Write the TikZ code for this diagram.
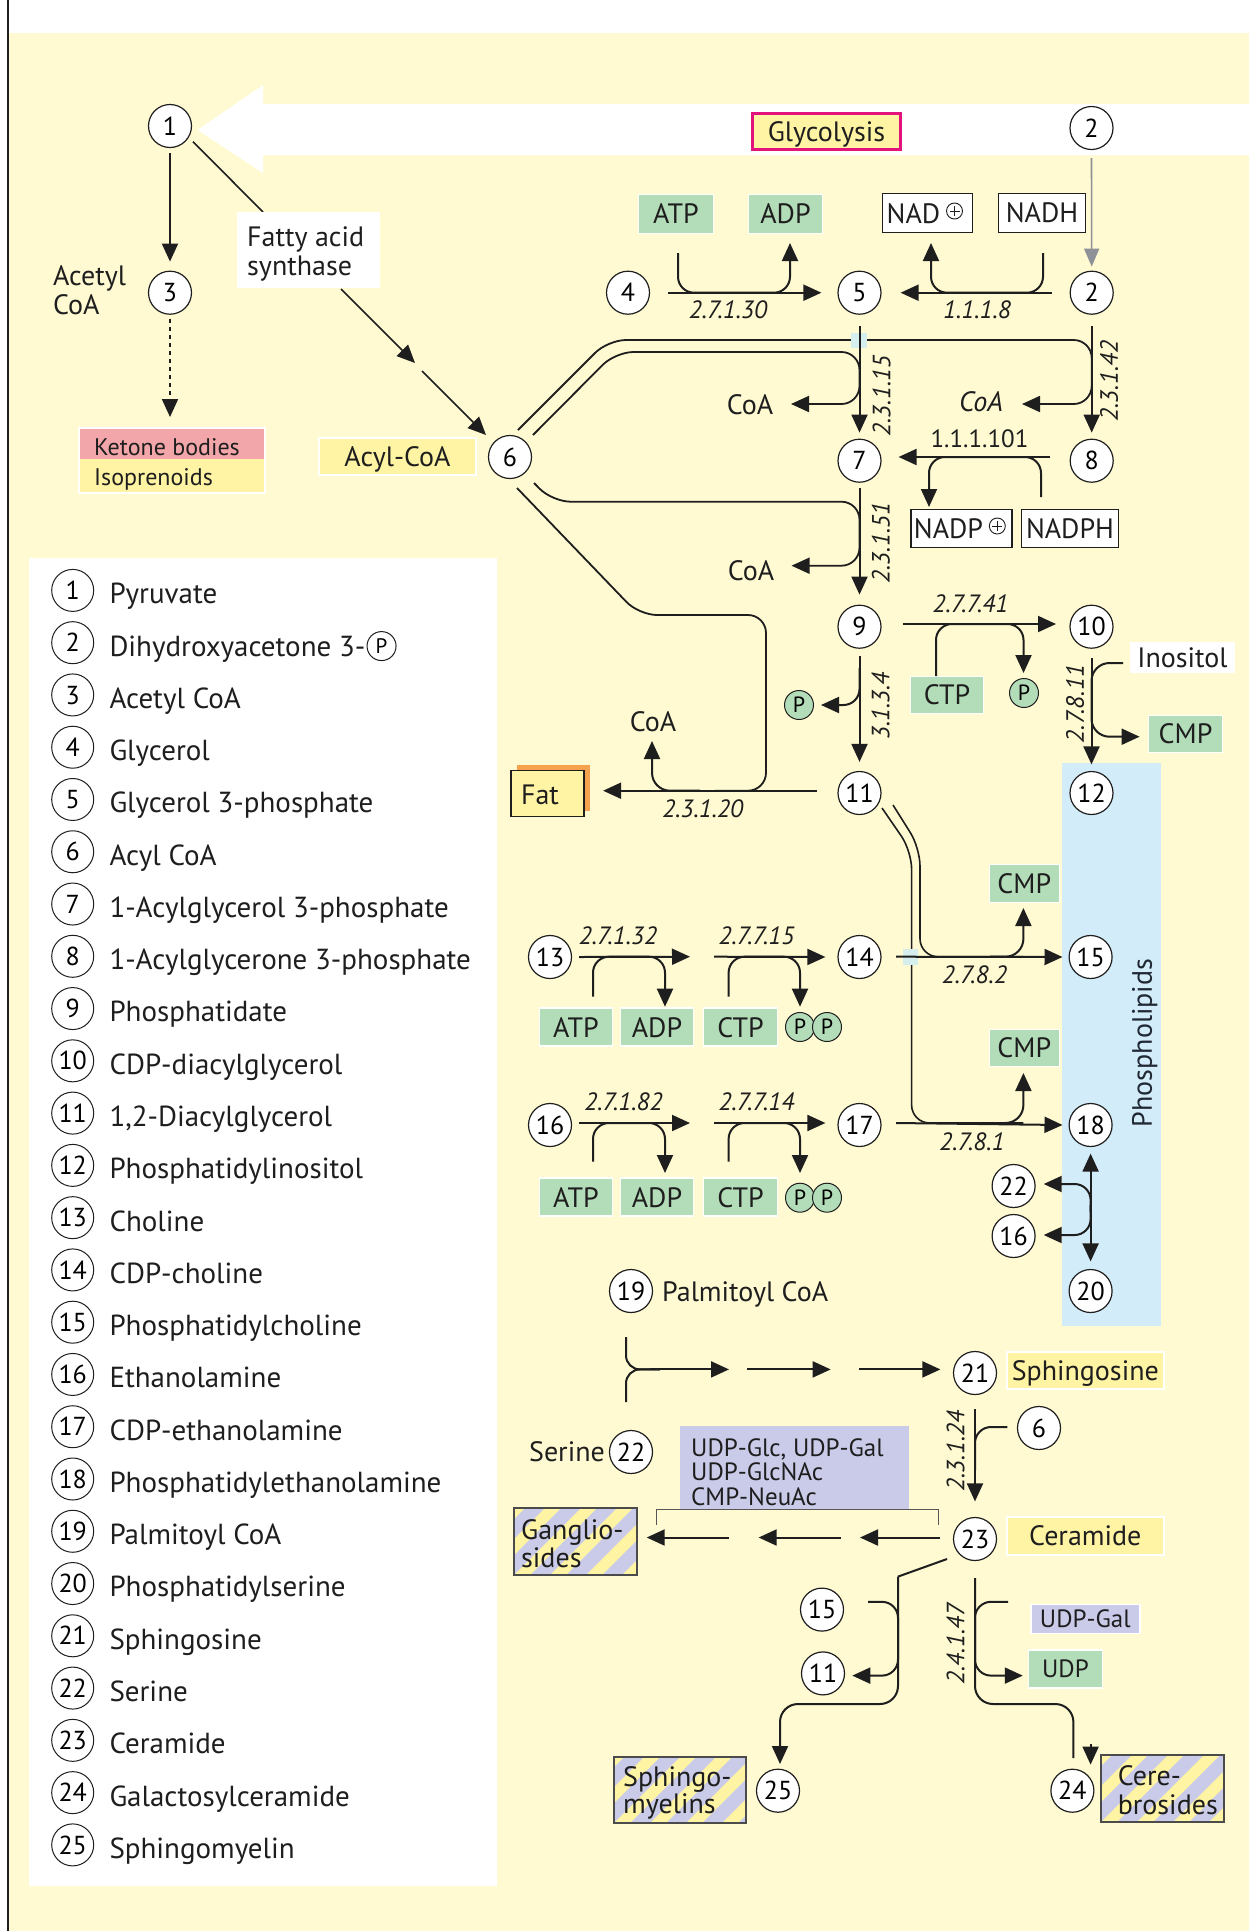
\documentclass[tikz,border=0pt]{standalone}
\usepackage{fontspec}
\setmainfont{PT Sans}
\usetikzlibrary{arrows.meta,calc}
\definecolor{bgy}{HTML}{FFFAD2}
\definecolor{boxy}{HTML}{FFF4A4}
\definecolor{pinkk}{HTML}{F3A6A9}
\definecolor{grn}{HTML}{B3DCB8}
\definecolor{lav}{HTML}{CACAE9}
\definecolor{lblue}{HTML}{D3ECFA}
\definecolor{mag}{HTML}{E3137E}
\definecolor{orng}{HTML}{F5A24E}
\definecolor{gry}{HTML}{8E9197}
\definecolor{ink}{HTML}{1E1E1E}
\definecolor{phl}{HTML}{1F2833}
\definecolor{patch}{HTML}{D6EEEE}
\newcommand\stripebox[4]{%
  \begin{scope}
    \clip (#1,#2) rectangle (#3,#4);
    \fill[lav] (#1,#2) rectangle (#3,#4);
    \foreach \k in {-110,-74,...,170} {
      \fill[boxy] ({#1+\k},{#4+2}) -- ++(16,0) -- ++(100,-100) -- ++(-16,0) -- cycle;
    }
  \end{scope}
  \draw[ink!80, line width=1.2pt] (#1,#2) rectangle (#3,#4);
}
\begin{document}
\begin{tikzpicture}[x=1pt,y=-1pt,
 num/.style={circle,draw=ink,fill=white,line width=1.2pt,minimum size=43pt,inner sep=0pt,font=\fontsize{26}{26}\selectfont,text height=18.2pt,text depth=0pt},
 lnum/.style={num,minimum size=42pt,line width=1pt},
 pc/.style={circle,draw=ink,fill=grn,line width=1pt,minimum size=29pt,inner sep=0pt,font=\fontsize{22}{22}\selectfont,text height=15.4pt,text depth=0pt},
 lab/.style={font=\fontsize{28}{28}\selectfont,text=ink,inner sep=0pt,text height=19.6pt,text depth=0pt},
 labi/.style={font=\fontsize{28}{28}\selectfont\itshape,text=ink,inner sep=0pt,text height=19.6pt,text depth=0pt},
 sm/.style={font=\fontsize{25}{25}\selectfont,text=ink,inner sep=0pt,text height=17.5pt,text depth=0pt},
 enz/.style={font=\fontsize{25}{25}\selectfont\itshape,text=ink,inner sep=0pt,text height=17.5pt,text depth=0pt},
 gbox/.style={lab,fill=grn,draw=white,line width=1.5pt},
 wbox/.style={lab,fill=white,draw=ink,line width=1.2pt},
 ybox/.style={lab,fill=boxy,draw=white,line width=2pt},
 ln/.style={line width=2pt,draw=ink},
 arr/.style={ln,-{Triangle[length=18pt,width=16pt]}},
 garr/.style={line width=1.6pt,draw=gry,-{Triangle[length=18pt,width=15pt]},color=gry},
 dln/.style={line width=1.6pt,draw=ink},
 leg/.style={font=\fontsize{29}{29}\selectfont,text=ink,inner sep=0pt,anchor=base west},
 oplus/.style={circle,draw=ink,line width=0.9pt,minimum size=16pt,inner sep=0pt},
]
\useasboundingbox (0,0) rectangle (1249,1931);
\fill[white] (0,0) rectangle (1249,1931);
\fill[bgy] (8,33) rectangle (1249,1931);
\draw[line width=2pt, ink] (8,0) -- (8,1931);

% glycolysis white arrow
\fill[white] (197.5,130) -- (263,85) -- (263,104) -- (1249,104) -- (1249,155) -- (263,155) -- (263,173) -- cycle;
% legend box
\fill[white] (29.3,557.9) rectangle (496.7,1886);
% phospholipid band
\fill[lblue] (1062,763) rectangle (1161,1326);
\node[font=\fontsize{28}{28}\selectfont,text=phl,inner sep=0pt,text height=19.6pt,text depth=0pt,rotate=90] (phtxt) at (1142,1043) {Phospholipids};

% ---------- top left ----------
\node[lab, fill=boxy, draw=mag, line width=2.5pt, minimum width=148pt, minimum height=36pt] (gly) at (826.5,131.5) {Glycolysis};
\node[num] (n1) at (170,126) {1};
\node[num] (n2a) at (1091.5,128) {2};
\node[num] (n3) at (170,292.7) {3};
\draw[arr] ($(n1.south)+(0,5)$) -- ($(n3.north)+(0,-9)$);
\node[lab, anchor=base west] (acet1) at (53,285) {Acetyl};
\node[lab, anchor=base west] (acet2) at (53,314) {CoA};
\fill[pinkk] (79,428) rectangle (265,459);
\fill[boxy] (79,459) rectangle (265,493);
\draw[white, line width=1.5pt] (79,428) rectangle (265,493);
\coordinate (ketone) at (170,417);
\node[font=\fontsize{24}{24}\selectfont,text=ink,inner sep=0pt,anchor=base west] (ket) at (94,455) {Ketone bodies};
\node[font=\fontsize{24}{24}\selectfont,text=ink,inner sep=0pt,anchor=base west] (iso) at (94,485) {Isoprenoids};
\draw[ln, dash pattern=on 4pt off 4pt, -{Triangle[length=18pt,width=16pt]}] ($(n3.south)+(0,4)$) -- (ketone);

% fatty acid synthase
\draw[ln, line width=1.6pt] (193,141.7) -- (263,212);
\fill[white] (237,212) rectangle (380,288);
\node[lab, anchor=base west] (fas1) at (247,246.7) {Fatty acid};
\node[lab, anchor=base west] (fas2) at (247,275) {synthase};
\node[ybox, minimum width=157pt, minimum height=37pt] (acyl) at (397.5,456.5) {Acyl-CoA};
\node[num] (n6) at (510,457) {6};
\draw[arr, line width=1.6pt] (341,289) -- (415,363);
\draw[arr, line width=1.6pt] (422,371) -- (486,435);

% ---------- glycerol row ----------
\node[num] (n4) at (628,292.7) {4};
\node[num] (n5) at (859.5,292.7) {5};
\node[num] (n2) at (1091.7,292.7) {2};
\draw[garr] ($(n2a.south)+(0,8)$) -- ($(n2.north)+(0,-4)$);
\node[gbox, minimum width=75pt, minimum height=39pt] (atp0) at (676,214) {ATP};
\node[gbox, minimum width=74pt, minimum height=39pt] (adp0) at (785.5,214) {ADP};
\node[wbox, minimum width=90pt, minimum height=39pt] (nad) at (927.5,213) {};
\node[lab] (nadt) at (913.5,214) {NAD};
\node[oplus] (op1) at (954.5,211) {};
\draw[line width=0.9pt, ink] ($(op1)+(-5,0)$) -- ($(op1)+(5,0)$) ($(op1)+(0,-5)$) -- ($(op1)+(0,5)$);
\node[wbox, minimum width=87pt, minimum height=39pt] (nadh) at (1042,213) {NADH};
\draw[arr] ($(n4.east)+(18,0)$) -- ($(n5.west)+(-16,0)$);
\draw[arr, rounded corners=16pt] (678,253) -- (678,292.7) -- (790,292.7) -- (790,243);
\draw[arr] ($(n2.west)+(-18,0)$) -- ($(n5.east)+(19,0)$);
\draw[arr, rounded corners=16pt] (1043,253) -- (1043,292.7) -- (931,292.7) -- (931,243);
\node[enz] (e1) at (728,309.5) {2.7.1.30};
\node[enz] (e2) at (977,309.5) {1.1.1.8};

% ---------- acyl transfers (upper double lines) ----------
\draw[arr, line width=1.8pt, rounded corners=18pt] (518,430) -- (608,340) -- (1091.7,340) -- (1091.7,404) -- (1022,404);
\fill[patch] (851,333) rectangle (867,348);
\draw[arr, line width=1.8pt, rounded corners=18pt] (533,435) -- (615.5,352) -- (859.5,352) -- (859.5,404) -- (791,404);
\node[num] (n7) at (859.5,460.7) {7};
\node[num] (n8) at (1091.7,460.7) {8};
\draw[arr] ($(n5.south)+(0,11)$) -- ($(n7.north)+(0,-6)$);
\draw[arr] ($(n2.south)+(0,11)$) -- ($(n8.north)+(0,-6)$);
\node[lab] (coa1) at (750,405) {CoA};
\node[labi] (coa2) at (981,401.7) {CoA};
\node[enz, rotate=90] (e3) at (881.5,396) {2.3.1.15};
\node[enz, rotate=90] (e4) at (1109,381) {2.3.1.42};

% 8 -> 7
\draw[arr] (1050,457) -- ($(n7.east)+(17,-3.7)$);
\node[sm] (e5) at (979.5,439) {1.1.1.101};
\node[wbox, minimum width=101pt, minimum height=38pt] (nadp) at (961.5,528.5) {};
\node[lab] (nadpt) at (948.5,529) {NADP};
\node[oplus] (op2) at (997.3,526) {};
\draw[line width=0.9pt, ink] ($(op2)+(-5,0)$) -- ($(op2)+(5,0)$) ($(op2)+(0,-5)$) -- ($(op2)+(0,5)$);
\node[wbox, minimum width=97pt, minimum height=38pt] (nadph) at (1070,528.5) {NADPH};
\draw[arr, rounded corners=16pt] (1041,497) -- (1041,457) -- (929,457) -- (929,507);

% ---------- lower acyl lines from 6 ----------
\draw[arr, line width=1.8pt, rounded corners=18pt] (534,483) -- (552.6,501.7) -- (859.5,501.7) -- (859.5,565.7) -- (791.5,565.7);
\draw[ln, line width=1.8pt, rounded corners=18pt] (517,488) -- (639,615) -- (766,615) -- (766,790.7) -- (715,790.7);
\node[num] (n9) at (859.5,626.7) {9};
\draw[arr] ($(n7.south)+(0,5)$) -- ($(n9.north)+(0,-10)$);
\node[lab] (coa3) at (751,571) {CoA};
\node[enz, rotate=90] (e6) at (880.8,543) {2.3.1.51};

% 9 -> 10
\node[num] (n10) at (1091.5,626.7) {10};
\draw[arr] (903,624) -- (1056,624);
\node[enz] (e7) at (970.5,603.5) {2.7.7.41};
\node[gbox, minimum width=73pt, minimum height=37pt] (ctp0) at (947,695) {CTP};
\node[pc] (p2) at (1024,693) {P};
\draw[arr, rounded corners=16pt] (936,676) -- (936,624) -- (1023.5,624) -- (1023.5,673);

% 10 -> 12
\node[num] (n12) at (1091.5,793) {12};
\draw[arr] ($(n10.south)+(0,9)$) -- ($(n12.north)+(0,-6.5)$);
\node[lab, fill=white, minimum width=105pt, minimum height=31pt] (inos) at (1182.5,657.5) {Inositol};
\node[gbox, minimum width=74pt, minimum height=37pt] (cmp0) at (1185.5,734) {CMP};
\draw[arr, rounded corners=18pt] (1123,663) -- (1091.5,663) -- (1091.5,736.7) -- (1139.6,736.7);
\node[enz, rotate=90] (e8) at (1075,704) {2.7.8.11};

% 9 -> 11
\node[num] (n11) at (859.5,793) {11};
\draw[arr] ($(n9.south)+(0,7)$) -- ($(n11.north)+(0,-9)$);
\node[pc] (p1) at (799,705) {P};
\draw[arr, rounded corners=16pt] (859.5,668) -- (859.5,705) -- (821,705);
\node[enz, rotate=90] (e9) at (880.5,706) {3.1.3.4};

% 11 -> Fat
\fill[orng] (517,765) rectangle (590,811);
\node[lab, fill=boxy, draw=ink, line width=1.2pt, minimum width=73pt, minimum height=46pt] (fatbox) at (547.4,793.7) {};
\node[lab] (fat) at (540,795) {Fat};
\draw[arr] ($(n11.west)+(-20,-2.3)$) -- ($(fatbox.east)+(18.6,-3)$);
\draw[arr, rounded corners=18pt] (700,790.7) -- (652,790.7) -- (652,741);
\node[lab] (coa4) at (653,721.7) {CoA};
\node[enz] (e10) at (702.7,809) {2.3.1.20};

% ---------- choline / ethanolamine rows ----------
\node[num] (n13) at (550,957) {13};
\node[num] (n14) at (859.5,957) {14};
\node[num] (n15) at (1090.6,957) {15};
\node[num] (n16) at (550,1125) {16};
\node[num] (n17) at (859.5,1125) {17};
\node[num] (n18) at (1090.6,1125) {18};

% double lines from 11
\draw[dln, rounded corners=18pt] (893,805) -- (920,848) -- (920,956.7) -- (1023.4,956.7);
\draw[dln, rounded corners=18pt] (882,808) -- (911.6,851) -- (911.6,1123) -- (1023.4,1123);
\fill[patch] (903,949) rectangle (918,965);

\draw[arr] (896,956.7) -- ($(n15.west)+(-6,0)$);
\draw[arr, rounded corners=18pt] (990,956.7) -- (1023.4,956.7) -- (1023.4,908);
\node[gbox, minimum width=70pt, minimum height=38pt] (cmp1) at (1024.3,883.5) {CMP};
\node[enz] (e11) at (974.4,974.7) {2.7.8.2};
\draw[arr] (896,1123) -- ($(n18.west)+(-6,0)$);
\draw[arr, rounded corners=18pt] (990,1123) -- (1023.4,1123) -- (1023.4,1073);
\node[gbox, minimum width=70pt, minimum height=37pt] (cmp2) at (1024.3,1048) {CMP};
\node[enz] (e12) at (972,1141.7) {2.7.8.1};

% row 1
\draw[arr] ($(n13.east)+(7,0)$) -- (690,956.7);
\draw[arr] (714,956.7) -- ($(n14.west)+(-12,0)$);
\draw[arr, rounded corners=16pt] (593,996.7) -- (593,956.7) -- (665,956.7) -- (665,1006.7);
\draw[arr, rounded corners=16pt] (728.6,996.7) -- (728.6,956.7) -- (800,956.7) -- (800,1006.7);
\node[enz] (e13) at (618,935.3) {2.7.1.32};
\node[enz] (e14) at (756.5,935.3) {2.7.7.15};
\node[gbox, minimum width=73pt, minimum height=38pt] (atp1) at (576,1027.2) {ATP};
\node[gbox, minimum width=73pt, minimum height=38pt] (adp1) at (657,1027.2) {ADP};
\node[gbox, minimum width=74pt, minimum height=38pt] (ctp1) at (740.5,1027.2) {CTP};
\node[pc] (pp1) at (800,1027) {P};
\node[pc] (pp2) at (827,1027) {P};

% row 2
\draw[arr] ($(n16.east)+(7,-2)$) -- (690,1123);
\draw[arr] (714,1123) -- ($(n17.west)+(-12,-2)$);
\draw[arr, rounded corners=16pt] (593,1161.7) -- (593,1123) -- (665,1123) -- (665,1173);
\draw[arr, rounded corners=16pt] (728.6,1161.7) -- (728.6,1123) -- (800,1123) -- (800,1173);
\node[enz] (e15) at (623.5,1101.7) {2.7.1.82};
\node[enz] (e16) at (756.5,1101.7) {2.7.7.14};
\node[gbox, minimum width=73pt, minimum height=38pt] (atp2) at (576,1197.2) {ATP};
\node[gbox, minimum width=73pt, minimum height=38pt] (adp2) at (657,1197.2) {ADP};
\node[gbox, minimum width=74pt, minimum height=38pt] (ctp2) at (740.5,1197.2) {CTP};
\node[pc] (pp3) at (800,1197.7) {P};
\node[pc] (pp4) at (827,1197.7) {P};

% 18 <-> 20
\node[num] (n22s) at (1013.6,1186) {22};
\node[num] (n16s) at (1013.6,1236) {16};
\node[num] (n20) at (1090.6,1291) {20};
\draw[ln, {Triangle[length=18pt,width=16pt]}-{Triangle[length=18pt,width=16pt]}] ($(n18.south)+(0,6.5)$) -- ($(n20.north)+(0,-7.5)$);
\draw[arr, rounded corners=16pt] (1090.6,1212) -- (1090.6,1184) -- ($(n22s.east)+(8,-2)$);
\draw[arr, rounded corners=16pt] (1090.6,1205) -- (1090.6,1235) -- ($(n16s.east)+(8,-1)$);

% ---------- sphingolipids ----------
\node[num] (n19) at (631,1291) {19};
\node[lab, anchor=west] (palm) at (662,1292) {Palmitoyl CoA};
\node[num] (n22) at (631,1452) {22};
\node[lab, anchor=east] (ser) at (605,1452) {Serine};
\draw[ln, rounded corners=14pt] (626,1337) -- (626,1369.4) -- (660,1369.4);
\draw[ln, rounded corners=14pt] (626,1402) -- (626,1369.4) -- (660,1369.4);
\draw[arr] (650,1369.4) -- (729,1369.4);
\draw[arr] (747,1369.4) -- (830.7,1369.4);
\node[num] (n21) at (975,1373) {21};
\draw[arr] (859,1369.4) -- ($(n21.west)+(-12.5,-3.6)$);
\node[ybox, minimum width=157pt, minimum height=37pt] (sphbox) at (1085.3,1370.4) {Sphingosine};

\node[num] (n23) at (975,1539) {23};
\node[num] (n6s) at (1039,1428) {6};
\draw[arr] ($(n21.south)+(0,14)$) -- ($(n23.north)+(0,-15.5)$);
\draw[ln, rounded corners=16pt] ($(n6s.west)+(-9.5,-1)$) -- (975,1427) -- (975,1470);
\node[enz, rotate=90] (e17) at (955.7,1451) {2.3.1.24};
\node[ybox, minimum width=157pt, minimum height=38pt] (cer) at (1085.3,1536) {Ceramide};

\node[fill=lav, minimum width=229pt, minimum height=84pt, inner sep=0pt] (udpglc) at (794.3,1468.3) {};
\node[sm, anchor=base west] (ug1) at (691,1456) {UDP-Glc, UDP-Gal};
\node[sm, anchor=base west] (ug2) at (691,1480.5) {UDP-GlcNAc};
\node[sm, anchor=base west] (ug3) at (691,1505) {CMP-NeuAc};
\draw[line width=1pt, ink!75] (656.6,1524.5) -- (656.6,1509.5) -- (938.5,1509.5) -- (938.5,1524.5);
\draw[arr] ($(n23.west)+(-12.5,-1.5)$) -- (860,1537.5);
\draw[arr] (840.5,1537.5) -- (758.6,1537.5);
\draw[arr] (728.6,1537.5) -- (646.7,1537.5);
\stripebox{514}{1508}{637}{1575}
\node[lab, anchor=base west] (gan1) at (521,1539) {Ganglio-};
\node[lab, anchor=base west] (gan2) at (521,1567) {sides};

% to sphingomyelins
\node[num] (n15s) at (822,1609.6) {15};
\node[num] (n11s) at (823,1673.4) {11};
\node[num] (n25) at (778,1790.7) {25};
\draw[ln] (947,1559) -- (898,1576.6);
\draw[arr, rounded corners=18pt] (898,1576.6) -- (898,1704) -- (780,1704) -- ($(n25.north)+(2,-4.6)$);
\draw[arr, rounded corners=16pt] ($(n15s.east)+(24,-7.8)$) -- (898,1601.8) -- (898,1675.6) -- ($(n11s.east)+(7.2,2.2)$);
\stripebox{614}{1757}{746}{1823}
\node[lab, anchor=base west] (sm1) at (623,1786) {Sphingo-};
\node[lab, anchor=base west] (sm2) at (623,1813) {myelins};

% to cerebrosides
\node[num] (n24) at (1072.4,1790.7) {24};
\draw[ln, rounded corners=18pt] (975,1578) -- (975,1704) -- (1073.4,1704) -- (1073.4,1758);
\draw[arr] (1090.6,1744) -- (1090.6,1764.6);
\node[lab, fill=lav, draw=white, line width=1.5pt, minimum width=109pt, minimum height=29pt, font=\fontsize{25}{25}\selectfont, text height=17.5pt] (udpgal) at (1085.3,1619) {UDP-Gal};
\node[gbox, minimum width=74pt, minimum height=38pt, font=\fontsize{25}{25}\selectfont, text height=17.5pt] (udp) at (1065.5,1669) {UDP};
\draw[arr, rounded corners=16pt] (1008,1601.8) -- (975,1601.8) -- (975,1675.6) -- ($(udp.west)+(-5,6.6)$);
\node[enz, rotate=90] (e18) at (955.7,1644) {2.4.1.47};
\stripebox{1101}{1755}{1224}{1822}
\node[lab, anchor=base west] (cb1) at (1117.6,1785) {Cere-};
\node[lab, anchor=base west] (cb2) at (1117.6,1814) {brosides};

% ---------- legend ----------
\foreach \i/\t in {1/Pyruvate,2/Dihydroxyacetone 3-,3/Acetyl CoA,4/Glycerol,5/Glycerol 3-phosphate,6/Acyl CoA,7/1-Acylglycerol 3-phosphate,8/1-Acylglycerone 3-phosphate,9/Phosphatidate,10/CDP-diacylglycerol,11/{1,2-Diacylglycerol},12/Phosphatidylinositol,13/Choline,14/CDP-choline,15/Phosphatidylcholine,16/Ethanolamine,17/CDP-ethanolamine,18/Phosphatidylethanolamine,19/Palmitoyl CoA,20/Phosphatidylserine,21/Sphingosine,22/Serine,23/Ceramide,24/Galactosylceramide,25/Sphingomyelin} {
  \node[lnum] (L\i) at (72.7,{590.4+52.27*(\i-1)}) {\i};
  \node[leg] (T\i) at (109.3,{603.8+52.27*(\i-1)}) {\t};
}
\node[circle,draw=ink,fill=white,line width=1pt,minimum size=29pt,inner sep=0pt,font=\fontsize{21}{21}\selectfont,text height=14.7pt,text depth=0pt,anchor=west] (L2p) at ($(T2.base east)+(1,-10)$) {P};
\end{tikzpicture}
\end{document}
